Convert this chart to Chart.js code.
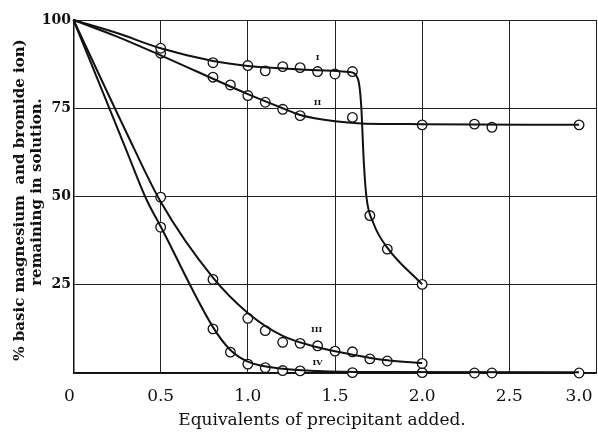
<!DOCTYPE html>
<html>
<head>
<meta charset="utf-8">
<script src="https://cdn.jsdelivr.net/npm/chart.js@4/dist/chart.umd.min.js"></script>
<style>
  html, body { margin: 0; padding: 0; background: #fff; }
  #wrap { width: 598px; height: 434px; }
</style>
</head>
<body>
<div id="wrap"><canvas id="c" width="598" height="434"></canvas></div>
<script>
// observed points (open circles)
const obs_I = [[0.5,92.0],[0.8,87.9],[1.0,87.1],[1.1,85.6],[1.2,86.8],[1.3,86.5],[1.4,85.4],[1.5,84.7],[1.6,85.4],[1.7,44.6],[1.8,35.1],[2.0,25.1]]
const obs_II = [[0.5,90.6],[0.8,83.8],[0.9,81.6],[1.0,78.6],[1.1,76.7],[1.2,74.7],[1.3,72.9],[1.6,72.4],[2.0,70.3],[2.3,70.5],[2.4,69.6],[2.9,70.3]]
const obs_III = [[0.5,49.8],[0.8,26.5],[1.0,15.5],[1.1,12.0],[1.2,8.7],[1.3,8.4],[1.4,7.7],[1.5,6.2],[1.6,6.0],[1.7,4.0],[1.8,3.4],[2.0,2.7]]
const obs_IV = [[0.5,41.3],[0.8,12.5],[0.9,5.9],[1.0,2.5],[1.1,1.5],[1.2,0.7],[1.3,0.6],[1.6,0.1],[2.0,0.1],[2.3,0.0],[2.4,0.0],[2.9,0.0]]

// drawn curves
const curve_I = [[0,100],[0.25,96.3],[0.5,92.0],[0.8,88.4],[1.0,87.0],[1.2,86.3],[1.4,85.8],[1.58,85.3],[1.63,83.5],[1.65,76],[1.665,60],[1.68,50],[1.72,42.5],[1.8,35.5],[2.0,25.1]]
const curve_II = [[0,100],[0.25,95.3],[0.5,90.0],[1.0,79.0],[1.2,75.0],[1.3,73.1],[1.5,71.3],[1.65,70.7],[2.0,70.5],[2.9,70.3]]
const curve_III = [[0,100],[0.3,68.5],[0.5,48.5],[0.8,27],[1.0,17],[1.2,10.5],[1.4,7.3],[1.6,5.2],[1.8,3.6],[2.0,2.8]]
const curve_IV = [[0,100],[0.3,63.5],[0.42,49],[0.5,41.5],[0.8,13],[0.9,6.5],[1.0,3.2],[1.2,1.2],[1.4,0.6],[1.7,0.3],[2.9,0.2]]

const x_ticks = [0, 0.5, 1.0, 1.5, 2.0, 2.5, 3.0]
const y_ticks = [100, 75, 50, 25]
const curve_names = ['I', 'II', 'III', 'IV']
const name_pos = [[1.40,89.2],[1.40,76.4],[1.395,12.2],[1.40,2.9]]

const x_title = 'Equivalents of precipitant added.'
const y_title = ['% basic magnesium  and bromide ion)', 'remaining in solution.']

function pts(arr) {
    return arr.map(p => ({x: p[0], y: p[1]}))
}

function make_curve(arr) {
    return {
        data: pts(arr),
        borderColor: '#111',
        borderWidth: 2,
        pointRadius: 0,
        cubicInterpolationMode: 'monotone',
        fill: false,
        clip: false
    }
}

function make_points(arr) {
    return {
        data: pts(arr),
        showLine: false,
        pointRadius: 4.8,
        pointBackgroundColor: '#fff',
        pointBorderColor: '#111',
        pointBorderWidth: 1.3,
        clip: false
    }
}

const labels_plugin = {
    id: 'labels_plugin',
    afterDraw(chart) {
        const ctx = chart.ctx
        const xs = chart.scales.x
        const ys = chart.scales.y
        const area = chart.chartArea
        ctx.save()
        ctx.fillStyle = '#111'

        // x tick labels
        ctx.font = '17px "DejaVu Serif"'
        ctx.textBaseline = 'middle'
        x_ticks.forEach(v => {
            let px = xs.getPixelForValue(v)
            if (v === 0) {
                ctx.textAlign = 'center'
                px = px - 4
            } else if (v === 3.0) {
                ctx.textAlign = 'right'
                px = area.right - 4
            } else {
                ctx.textAlign = 'center'
            }
            ctx.fillText(v === 0 ? '0' : v.toFixed(1), px, 397)
        })

        // y tick labels
        ctx.font = 'bold 14px "DejaVu Serif"'
        ctx.textAlign = 'right'
        y_ticks.forEach(v => {
            ctx.fillText(String(v), 71, ys.getPixelForValue(v))
        })

        // x title
        ctx.font = '17px "DejaVu Serif"'
        ctx.textAlign = 'center'
        ctx.fillText(x_title, 322, 421)

        // y title
        ctx.font = 'bold 15px "DejaVu Serif"'
        ctx.translate(0, 200)
        ctx.rotate(-Math.PI / 2)
        ctx.fillText(y_title[0], 0, 20)
        ctx.fillText(y_title[1], 8, 37)
        ctx.restore()

        // curve numbers
        ctx.save()
        ctx.fillStyle = '#111'
        ctx.font = 'bold 8px "DejaVu Serif"'
        ctx.textAlign = 'center'
        ctx.textBaseline = 'middle'
        curve_names.forEach((n, i) => {
            ctx.fillText(n, xs.getPixelForValue(name_pos[i][0]), ys.getPixelForValue(name_pos[i][1]))
        })
        ctx.restore()
    }
}

new Chart(document.getElementById('c'), {
    type: 'line',
    data: {
        datasets: [
            make_curve(curve_I), make_curve(curve_II), make_curve(curve_III), make_curve(curve_IV),
            make_points(obs_I), make_points(obs_II), make_points(obs_III), make_points(obs_IV)
        ]
    },
    options: {
        responsive: false,
        animation: false,
        events: [],
        layout: {autoPadding: false, padding: {left: 73.5, top: 20, right: 1.5, bottom: 61}},
        plugins: {legend: {display: false}, tooltip: {enabled: false}},
        scales: {
            x: {
                type: 'linear', min: 0, max: 3.0,
                ticks: {display: false, stepSize: 0.5},
                grid: {color: '#222', lineWidth: 1, drawTicks: false},
                border: {color: '#111', width: 1.5},
                afterFit(s) { s.height = 0 }
            },
            y: {
                type: 'linear', min: 0, max: 100,
                ticks: {display: false, stepSize: 25},
                grid: {color: '#222', lineWidth: 1, drawTicks: false},
                border: {color: '#111', width: 1.5},
                afterFit(s) { s.width = 0 }
            }
        }
    },
    plugins: [labels_plugin]
})
</script>
</body>
</html>
